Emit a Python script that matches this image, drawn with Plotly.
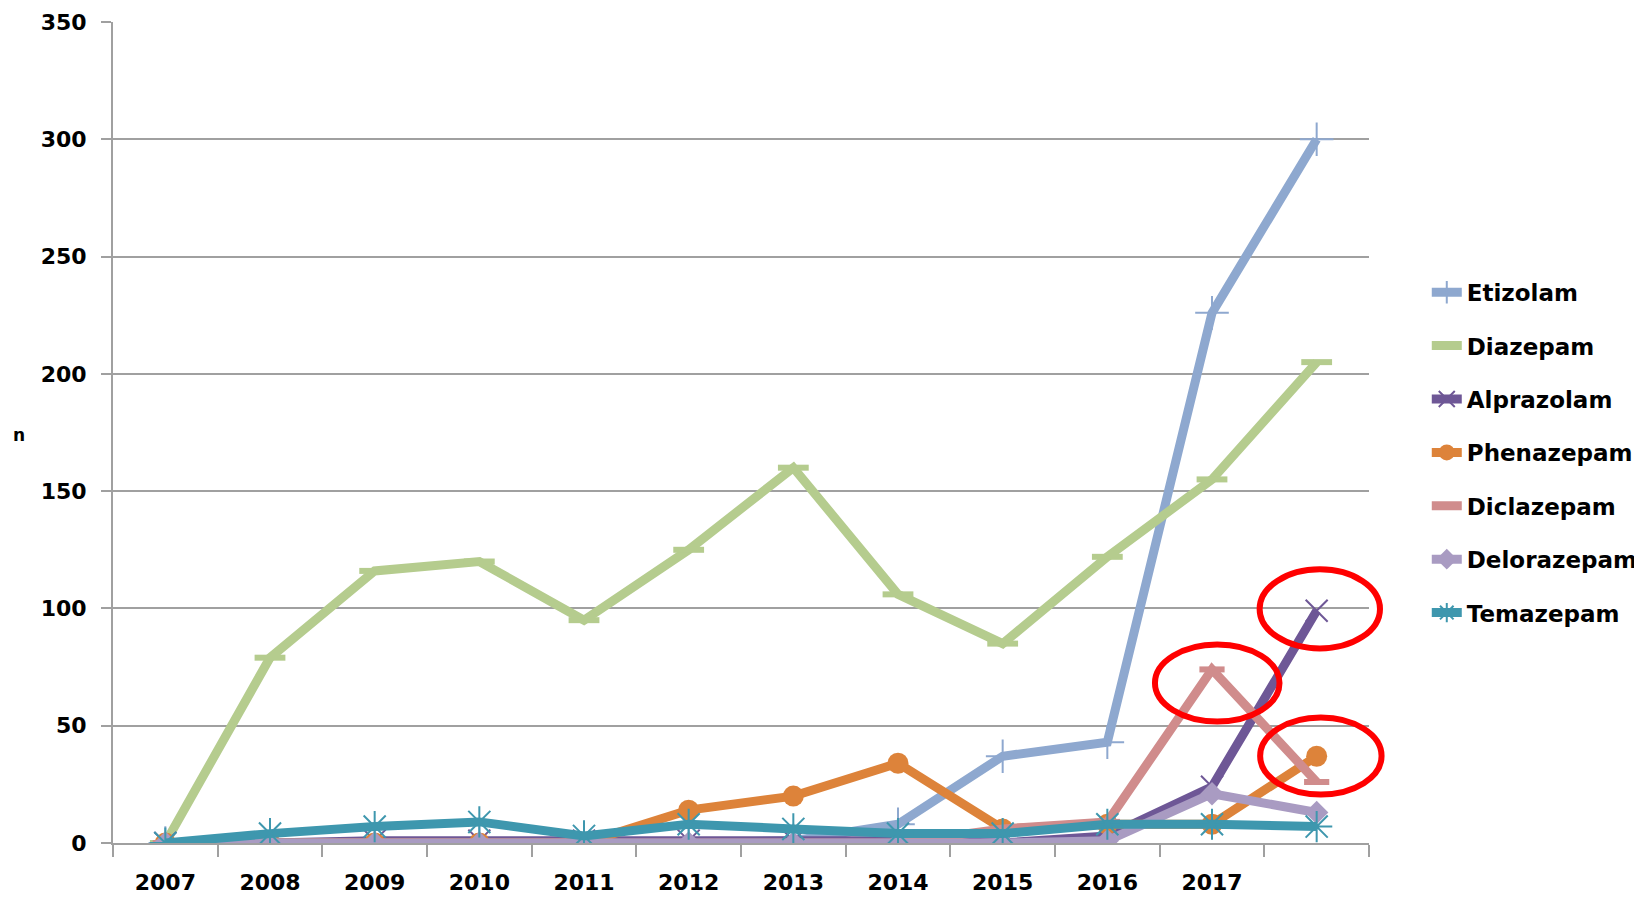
import plotly.graph_objects as go

years = [2007, 2008, 2009, 2010, 2011, 2012, 2013, 2014, 2015, 2016, 2017, 2018]
tick_labels = ["2007", "2008", "2009", "2010", "2011", "2012", "2013", "2014", "2015", "2016", "2017"]

etizolam = [0, 0, 0, 0, 0, 0, 1, 8, 37, 43, 226, 300]
diazepam = [0, 79, 116, 120, 95, 125, 160, 106, 85, 122, 155, 205]
alprazolam = [0, 0, 1, 1, 1, 1, 1, 1, 0, 3, 24, 99]
phenazepam = [0, 0, 0, 0, 0, 14, 20, 34, 6, 8, 8, 37]
diclazepam = [0, 0, 0, 0, 0, 0, 0, 0, 6, 9, 74, 26]
delorazepam = [0, 0, 0, 0, 0, 0, 0, 0, 0, 1, 21, 13]
temazepam = [0, 4, 7, 9, 3, 8, 6, 4, 4, 8, 8, 7]

series = [
    ("Etizolam", etizolam, "#8EA8CF", dict(symbol="cross-thin", size=24, line=dict(width=2, color="#8EA8CF"))),
    ("Diazepam", diazepam, "#B5CC8E", dict(symbol="line-ew", size=22, line=dict(width=6, color="#B5CC8E"))),
    ("Alprazolam", alprazolam, "#6E5796", dict(symbol="x-thin", size=22, line=dict(width=2, color="#6E5796"))),
    ("Phenazepam", phenazepam, "#DD833A", dict(symbol="circle", size=21, line=dict(width=0))),
    ("Diclazepam", diclazepam, "#D08C8C", dict(symbol="line-ew", size=18, line=dict(width=6, color="#D08C8C"))),
    ("Delorazepam", delorazepam, "#A99BC2", dict(symbol="diamond", size=18, line=dict(width=0))),
    ("Temazepam", temazepam, "#3E97AE", dict(symbol="asterisk", size=26, line=dict(width=2, color="#3E97AE"))),
]

fig = go.Figure()
for name, vals, color, marker in series:
    fig.add_trace(go.Scatter(
        x=years, y=vals, name=name, mode="lines+markers",
        line=dict(color=color, width=9),
        marker=dict(color=color, **marker),
        legendgroup=name,
    ))

x_min, x_max = 2006.5, 2018.5
y_min, y_max = 0, 350

# red ellipses highlighting points (centre in data units, size in data units)
ellipses = [
    (2018.03, 99.8, 1.15, 33.7),
    (2017.05, 68.2, 1.19, 32.8),
    (2018.04, 37.1, 1.16, 32.8),
]
def px(v):
    return (v - x_min) / (x_max - x_min)
def py(v):
    return (v - y_min) / (y_max - y_min)
for cx, cy, w, h in ellipses:
    fig.add_shape(type="circle", xref="paper", yref="paper",
                  x0=px(cx - w / 2), x1=px(cx + w / 2), y0=py(cy - h / 2), y1=py(cy + h / 2),
                  line=dict(color="#FF0000", width=6))

font_family = "DejaVu Sans"
fig.update_layout(
    width=1642, height=897,
    margin=dict(l=105, r=281, t=14, b=62, autoexpand=False),
    paper_bgcolor="white", plot_bgcolor="white",
    font=dict(family=font_family, size=22, color="black", weight="bold"),
    showlegend=True,
    legend=dict(x=1.046, y=0.697, xanchor="left", yanchor="top",
                font=dict(family=font_family, size=23, color="black", weight="bold"),
                tracegroupgap=20.5, bgcolor="rgba(0,0,0,0)"),
    xaxis=dict(
        range=[x_min, x_max], tickmode="array", tickvals=years[:11], ticktext=tick_labels,
        ticks="", showgrid=False, zeroline=False, automargin=False,
        showline=True, linecolor="#A0A0A0", linewidth=2,
        ticklabelstandoff=19,
        tickfont=dict(family=font_family, size=22, color="black", weight="bold"),
        minor=dict(tickmode="array", tickvals=[y - 0.5 for y in years] + [2018.5],
                   ticks="outside", ticklen=12, tickcolor="#A0A0A0", tickwidth=2, showgrid=False),
    ),
    yaxis=dict(
        range=[y_min, y_max], dtick=50, showgrid=True, gridcolor="#A0A0A0", gridwidth=2,
        zeroline=False, showline=True, linecolor="#A0A0A0", linewidth=2, automargin=False,
        ticks="outside", ticklen=10, tickcolor="#A0A0A0", tickwidth=2,
        ticklabelstandoff=10,
        tickfont=dict(family=font_family, size=22, color="black", weight="bold"),
    ),
)
fig.add_annotation(text="n", xref="paper", yref="paper", x=-0.0748, y=0.497,
                   showarrow=False, xanchor="center", yanchor="middle",
                   font=dict(family=font_family, size=17, color="black", weight="bold"))

fig.write_html("out.html")
